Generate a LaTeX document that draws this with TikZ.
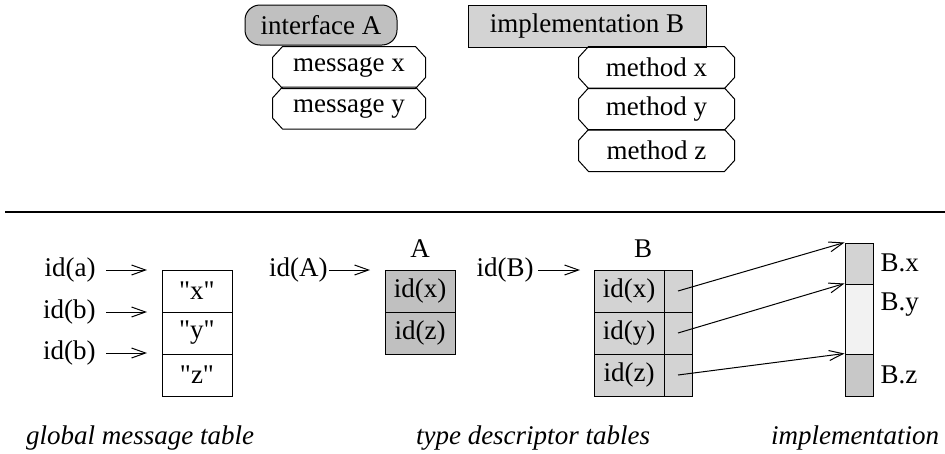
\documentclass[tikz,border=0pt]{standalone}
\usepackage{fontspec}
\setmainfont{Liberation Serif}
\newfontfamily\plainquotes{Liberation Serif}
\usetikzlibrary{arrows.meta}
\definecolor{darkfill}{HTML}{C0C0C0}
\definecolor{lightfill}{HTML}{D3D3D3}
\definecolor{palefill}{HTML}{F2F2F2}
\definecolor{midfill}{HTML}{C8C8C8}
\begin{document}
\begin{tikzpicture}[x=1pt,y=-1pt,line width=1pt,
  font=\fontsize{27}{32}\selectfont,
  arr/.style={-{Straight Barb[length=14pt,width=10pt,line width=1pt]}},
  cell/.style={draw, inner sep=0pt, minimum height=42pt},
  octbox/.style={inner sep=0pt, minimum height=41pt},
  lbl/.style={inner sep=0pt},
  captiontext/.style={font=\fontsize{27}{32}\selectfont\itshape, anchor=base, inner sep=0pt}]
\useasboundingbox (0,0) rectangle (945,453);
% ---------- top part ----------
\node[draw, fill=darkfill, rounded corners=15pt, minimum width=152pt, minimum height=40pt, inner sep=0pt] (ia) at (321,25) {interface A};
\node[octbox, minimum width=152pt] (mx) at (349,67.5) {message x};
\node[octbox, minimum width=152pt] (my) at (349,108) {message y};
\node[draw, fill=lightfill, minimum width=238pt, minimum height=42pt, inner sep=0pt] (ib) at (587,26) {implementation B};
\node[octbox, minimum width=155pt] (mtx) at (656.5,67.5) {method x};
\node[octbox, minimum width=155pt] (mty) at (656.5,109) {method y};
\node[octbox, minimum width=155pt] (mtz) at (656.5,150.5) {method z};
\foreach \n in {mx,my,mtx,mty,mtz}
  \draw ([xshift=10pt]\n.north west) -- ([xshift=-10pt]\n.north east) -- ([yshift=-11pt]\n.north east)
     -- ([yshift=11pt]\n.south east) -- ([xshift=-10pt]\n.south east) -- ([xshift=10pt]\n.south west)
     -- ([yshift=11pt]\n.south west) -- ([yshift=-11pt]\n.north west) -- cycle;
% separator
\coordinate (hl) at (5,212);
\coordinate (hr) at (945,212);
\draw[line width=2pt] (hl) -- (hr);
% ---------- global message table ----------
\node[cell, minimum width=70pt] (gx) at (197,291) {\plainquotes "x"};
\node[cell, minimum width=70pt] (gy) at (197,333) {\plainquotes "y"};
\node[cell, minimum width=70pt] (gz) at (197,375) {\plainquotes "z"};
\node[lbl, anchor=east] (la) at (96,270) {id(a)};
\node[lbl, anchor=east] (lb1) at (96,312) {id(b)};
\node[lbl, anchor=east] (lb2) at (96,353) {id(b)};
\coordinate (ta) at (147,270);
\coordinate (tb1) at (147,312);
\coordinate (tb2) at (147,353);
\draw[arr, shorten <=10pt] (la.east) -- (ta);
\draw[arr, shorten <=10pt] (lb1.east) -- (tb1);
\draw[arr, shorten <=10pt] (lb2.east) -- (tb2);
% ---------- type descriptor A ----------
\node[lbl] (tA) at (420,249) {A};
\node[cell, fill=darkfill, minimum width=70pt] (ax) at (420,291) {id(x)};
\node[cell, fill=darkfill, minimum width=70pt] (az) at (420,333) {id(z)};
\node[lbl, anchor=east] (lA) at (328,270) {id(A)};
\coordinate (tAa) at (370,270);
\draw[arr, shorten <=1pt] (lA.east) -- (tAa);
% ---------- type descriptor B ----------
\node[lbl] (tB) at (643,249) {B};
\node[cell, fill=lightfill, minimum width=70pt] (bx) at (629,291) {id(x)};
\node[cell, fill=lightfill, minimum width=70pt] (by) at (629,333) {id(y)};
\node[cell, fill=lightfill, minimum width=70pt] (bz) at (629,375) {id(z)};
\node[cell, fill=lightfill, minimum width=28pt] (bxr) at (678,291) {};
\node[cell, fill=lightfill, minimum width=28pt] (byr) at (678,333) {};
\node[cell, fill=lightfill, minimum width=28pt] (bzr) at (678,375) {};
\node[lbl, anchor=east] (lB) at (534,270) {id(B)};
\coordinate (tBa) at (580,270);
\draw[arr, shorten <=4pt] (lB.east) -- (tBa);
% ---------- implementation ----------
\node[cell, fill=lightfill, minimum width=28pt, minimum height=41pt] (px) at (859,263.5) {};
\node[cell, fill=palefill, minimum width=28pt, minimum height=70pt] (py) at (859,319) {};
\node[cell, fill=midfill, minimum width=28pt, minimum height=42pt] (pz) at (859,375) {};
\node[lbl, anchor=west] (lbx) at (880,263) {B.x};
\node[lbl, anchor=west] (lby) at (880,305) {B.y};
\node[lbl, anchor=west] (lbz) at (880,375) {B.z};
\draw[arr] (bxr.center) -- (px.north west);
\draw[arr] (byr.center) -- (py.north west);
\draw[arr] (bzr.center) -- (pz.north west);
% ---------- captions ----------
\node[captiontext] (c1) at (140,444) {global message table};
\node[captiontext] (c2) at (533,444) {type descriptor tables};
\node[captiontext] (c3) at (855,444) {implementation};
\end{tikzpicture}
\end{document}
